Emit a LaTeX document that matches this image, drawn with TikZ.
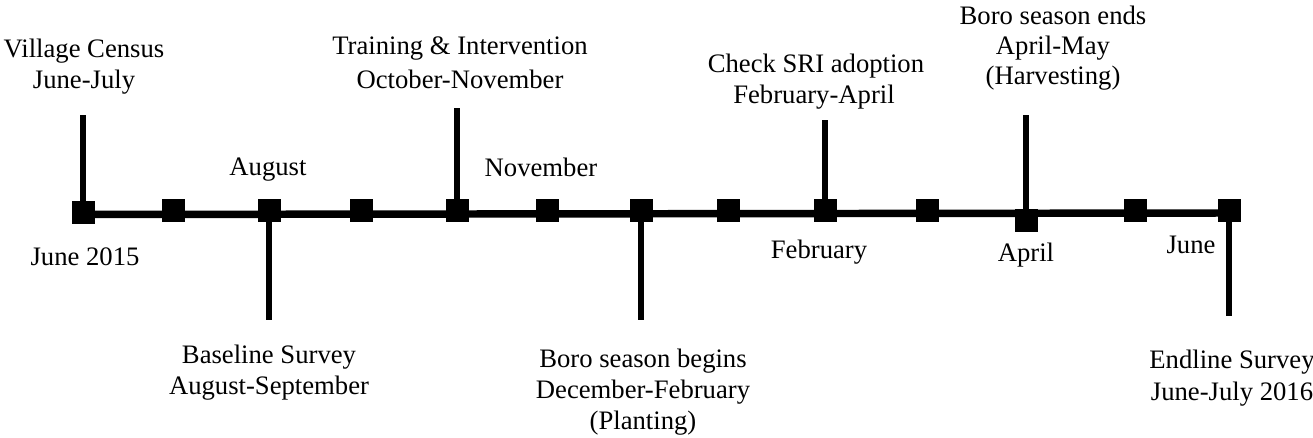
\documentclass[tikz,border=0pt]{standalone}
\usepackage{fontspec}
\setmainfont{Liberation Serif}
\begin{document}
\begin{tikzpicture}[x=0.75pt,y=-0.75pt,
  tick/.style={fill=black,draw=none,minimum size=17.25pt,inner sep=0pt},
  lbl/.style={anchor=base,inner sep=0pt,font=\fontsize{20}{24}\selectfont},
  axis/.style={line width=5.6pt},
  stem/.style={line width=3.9pt}]
\useasboundingbox (0,0) rectangle (1313,438);
% main axis
\coordinate (ls) at (83,214.5);
\coordinate (le) at (1229,213);
\draw[axis] (ls) -- (le);
% ticks
\node[tick] (t0) at (83,213) {};
\node[tick] (t1) at (173,211) {};
\node[tick] (t2) at (269,211) {};
\node[tick] (t3) at (361,211) {};
\node[tick] (t4) at (457,211) {};
\node[tick] (t5) at (547,211) {};
\node[tick] (t6) at (641,211) {};
\node[tick] (t7) at (728,211) {};
\node[tick] (t8) at (825,211) {};
\node[tick] (t9) at (927,211) {};
\node[tick] (t10) at (1026,220.5) {};
\node[tick] (t11) at (1135,211) {};
\node[tick] (t12) at (1229,211) {};
% stem ends
\coordinate (s0) at (83,115);
\coordinate (s2) at (269,320);
\coordinate (s4) at (457,108);
\coordinate (s6) at (641,320);
\coordinate (s8) at (825,120);
\coordinate (s10) at (1026,115);
\coordinate (s12) at (1229,316);
\draw[stem] (t0.center) -- (s0);
\draw[stem] (t2.center) -- (s2);
\draw[stem] (t4.center) -- (s4);
\draw[stem] (t6.center) -- (s6);
\draw[stem] (t8.center) -- (s8);
\draw[stem] (t10.center) -- (s10);
\draw[stem] (t12.center) -- (s12);
% labels above
\node[lbl] (vc1) at (84,58) {Village Census};
\node[lbl] (vc2) at (84,89) {June-July};
\node[lbl] (aug) at (268,176) {August};
\node[lbl] (tr1) at (460,55) {Training \& Intervention};
\node[lbl] (tr2) at (460,89) {October-November};
\node[lbl] (nov) at (541,177) {November};
\node[lbl] (sri1) at (816,73) {Check SRI adoption};
\node[lbl] (sri2) at (814,104) {February-April};
\node[lbl] (be1) at (1053,25) {Boro season ends};
\node[lbl] (be2) at (1053,55) {April-May};
\node[lbl] (be3) at (1053,85) {(Harvesting)};
% labels below
\node[lbl] (jun15) at (85,266) {June 2015};
\node[lbl] (feb) at (819,258) {February};
\node[lbl] (apr) at (1026,262) {April};
\node[lbl] (jun) at (1191,254) {June};
\node[lbl] (bs1) at (269,363) {Baseline Survey};
\node[lbl] (bs2) at (269,394) {August-September};
\node[lbl] (bb1) at (643,367) {Boro season begins};
\node[lbl] (bb2) at (643,398) {December-February};
\node[lbl] (bb3) at (643,429) {(Planting)};
\node[lbl] (es1) at (1232,368) {Endline Survey};
\node[lbl] (es2) at (1232,400) {June-July 2016};
\end{tikzpicture}
\end{document}
